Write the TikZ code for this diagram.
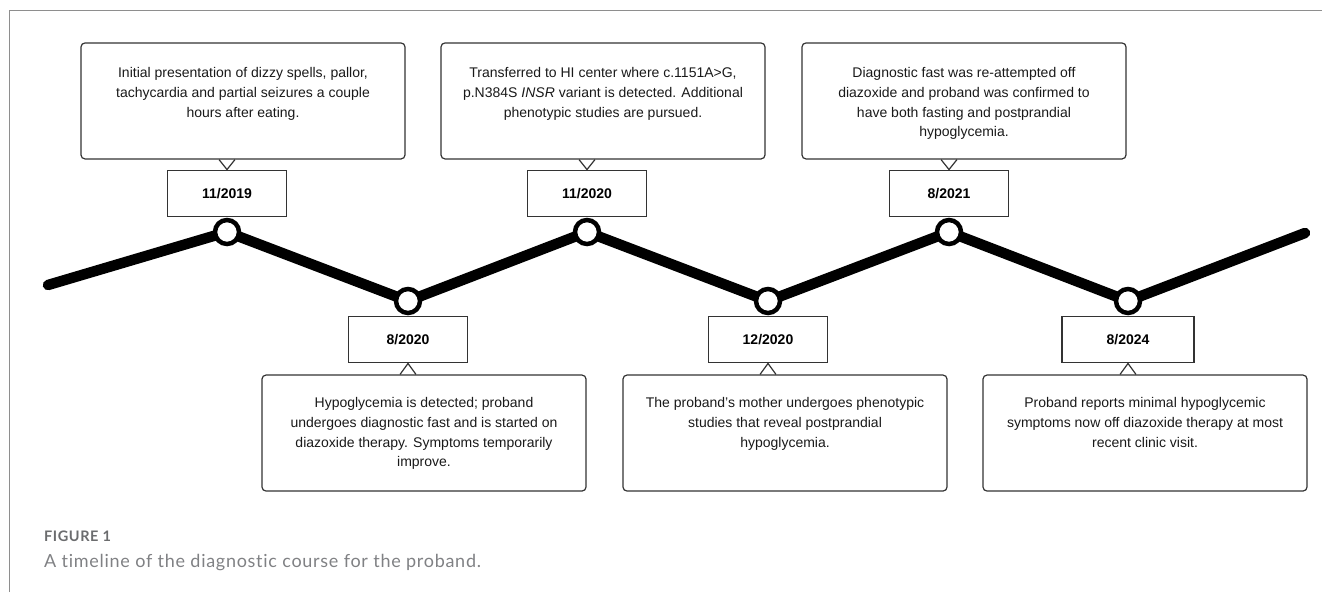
\documentclass[tikz,border=0pt]{standalone}
\usepackage{fontspec}
\setmainfont{Liberation Sans}
\newfontfamily\capfont[Ligatures=NoCommon,LetterSpace=4]{Lato}
\usetikzlibrary{positioning}
\definecolor{boxline}{HTML}{333333}
\definecolor{capdark}{HTML}{6B6C6E}
\definecolor{caplight}{HTML}{808184}
\definecolor{framegray}{HTML}{8E8E8E}
\begin{document}
\begin{tikzpicture}[x=1pt,y=-1pt,
callout/.style={draw=boxline,line width=1.2pt,rounded corners=4pt,minimum width=324pt,minimum height=116pt,inner sep=0pt},
calltext/.style={align=center,inner sep=0pt,text=black!90,font=\fontsize{14}{19.7}\selectfont},
datebox/.style={draw=boxline,line width=1.2pt,minimum width=119pt,minimum height=46pt,inner sep=0pt,font=\fontsize{14}{16}\selectfont\bfseries},
milestone/.style={circle,draw=black,line width=4.5pt,fill=white,minimum size=24pt,inner sep=0pt},
pointer/.style={draw=boxline,line width=1.2pt}]
\useasboundingbox (0,0) rectangle (1322,592);
\draw[framegray,line width=1pt] (9,592) -- (9,10) -- (1322,10);
\coordinate (L) at (48,285);
\coordinate (P1) at (227,232);
\coordinate (P2) at (408,301);
\coordinate (P3) at (587,232);
\coordinate (P4) at (768,301);
\coordinate (P5) at (949,232);
\coordinate (P6) at (1128,301);
\coordinate (R) at (1305,233);
\draw[line width=10.5pt,line cap=round,line join=round] (L)--(P1)--(P2)--(P3)--(P4)--(P5)--(P6)--(R);
\node[milestone] (M1) at (P1) {};
\node[milestone] (M2) at (P2) {};
\node[milestone] (M3) at (P3) {};
\node[milestone] (M4) at (P4) {};
\node[milestone] (M5) at (P5) {};
\node[milestone] (M6) at (P6) {};
\node[datebox,above=1pt of M1] (D1) {11/2019};
\node[datebox,below=1pt of M2] (D2) {8/2020};
\node[datebox,above=1pt of M3] (D3) {11/2020};
\node[datebox,below=1pt of M4] (D4) {12/2020};
\node[datebox,above=1pt of M5] (D5) {8/2021};
\node[datebox,below=1pt of M6,minimum width=132pt] (D6) {8/2024};
\node[callout,above=10pt of D1,xshift=16pt] (C1) {};
\node[callout,below=11pt of D2,xshift=16pt] (C2) {};
\node[callout,above=10pt of D3,xshift=16pt] (C3) {};
\node[callout,below=11pt of D4,xshift=17pt] (C4) {};
\node[callout,above=10pt of D5,xshift=15pt] (C5) {};
\node[callout,below=11pt of D6,xshift=17pt] (C6) {};
\draw[pointer] ([xshift=-8pt]D1.north |- C1.south)--(D1.north)--([xshift=8pt]D1.north |- C1.south);
\draw[pointer] ([xshift=-8pt]D2.south |- C2.north)--(D2.south)--([xshift=8pt]D2.south |- C2.north);
\draw[pointer] ([xshift=-8pt]D3.north |- C3.south)--(D3.north)--([xshift=8pt]D3.north |- C3.south);
\draw[pointer] ([xshift=-8pt]D4.south |- C4.north)--(D4.south)--([xshift=8pt]D4.south |- C4.north);
\draw[pointer] ([xshift=-8pt]D5.north |- C5.south)--(D5.north)--([xshift=8pt]D5.north |- C5.south);
\draw[pointer] ([xshift=-8pt]D6.south |- C6.north)--(D6.south)--([xshift=8pt]D6.south |- C6.north);
\node[calltext,below=25pt of C1.north] (T1) {Initial presentation of dizzy spells, pallor,\\tachycardia and partial seizures a couple\\hours after eating.};
\node[calltext,below=23pt of C2.north] (T2) {Hypoglycemia is detected; proband\\undergoes diagnostic fast and is started on\\diazoxide therapy. Symptoms temporarily\\improve.};
\node[calltext,below=25pt of C3.north] (T3) {Transferred to HI center where c.1151A>G,\\p.N384S \textit{INSR} variant is detected. Additional\\phenotypic studies are pursued.};
\node[calltext,below=23pt of C4.north] (T4) {The proband’s mother undergoes phenotypic\\studies that reveal postprandial\\hypoglycemia.};
\node[calltext,below=25pt of C5.north] (T5) {Diagnostic fast was re-attempted off\\diazoxide and proband was confirmed to\\have both fasting and postprandial\\hypoglycemia.};
\node[calltext,below=23pt of C6.north] (T6) {Proband reports minimal hypoglycemic\\symptoms now off diazoxide therapy at most\\recent clinic visit.};
\node[anchor=base west,inner sep=0pt,text=capdark,font=\capfont\bfseries\fontsize{14.5}{16}\selectfont] (FIG) at (44,541.5) {FIGURE 1};
\node[anchor=base west,inner sep=0pt,text=caplight,font=\capfont\fontsize{18}{20}\selectfont] (CAP) at (44,567) {A timeline of the diagnostic course for the proband.};
\end{tikzpicture}
\end{document}
